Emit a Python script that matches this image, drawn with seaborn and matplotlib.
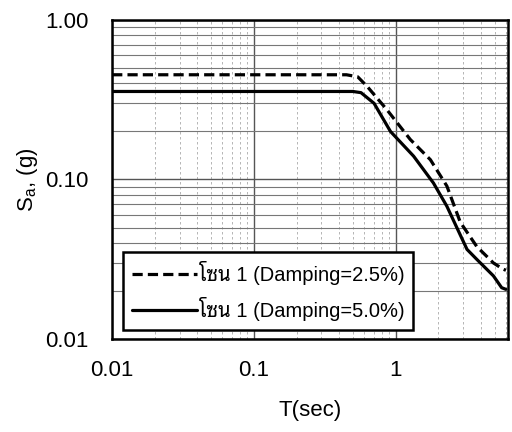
import matplotlib
matplotlib.use('Agg')
import numpy as np
import pandas as pd
import matplotlib.pyplot as plt
import seaborn as sns
from matplotlib.ticker import FixedLocator, FixedFormatter, LogLocator, NullFormatter

# response spectrum, damping 2.5 %
period_25 = [0.01, 0.45, 0.54, 0.63, 0.87, 1.27, 1.76, 2.3, 2.86, 3.74, 4.9, 5.7, 6.0]
sa_25 = [0.453, 0.453, 0.44, 0.383, 0.273, 0.178, 0.133, 0.091, 0.054, 0.038, 0.030, 0.0275, 0.027]

# response spectrum, damping 5.0 %
period_50 = [0.01, 0.50, 0.57, 0.705, 0.92, 1.34, 1.85, 2.3, 3.19, 3.74, 4.9, 5.6, 6.0]
sa_50 = [0.356, 0.356, 0.35, 0.30, 0.20, 0.14, 0.095, 0.068, 0.0365, 0.0316, 0.0249, 0.021, 0.0205]

labels = ['โซน 1 (Damping=2.5%)', 'โซน 1 (Damping=5.0%)']
x_ticks = [0.01, 0.1, 1]
x_ticklabels = ['0.01', '0.1', '1']
y_ticks = [0.01, 0.1, 1]
y_ticklabels = ['0.01', '0.10', '1.00']

df = pd.concat([
    pd.DataFrame({'T': period_25, 'Sa': sa_25, 'series': labels[0]}),
    pd.DataFrame({'T': period_50, 'Sa': sa_50, 'series': labels[1]}),
])

sns.set_style('white')
plt.rcParams['font.family'] = ['Liberation Sans', 'Noto Sans Thai Looped', 'DejaVu Sans']
plt.rcParams['mathtext.fontset'] = 'custom'
plt.rcParams['mathtext.rm'] = 'Liberation Sans'
plt.rcParams['text.color'] = 'black'
plt.rcParams['axes.labelcolor'] = 'black'

fig = plt.figure(figsize=(5.12, 4.32), dpi=100)
ax = fig.add_axes([0.219, 0.215, 0.773, 0.739])

sns.lineplot(data=df, x='T', y='Sa', style='series', color='black', linewidth=2.3,
             dashes={labels[0]: (3.2, 1.6), labels[1]: ''}, sort=False, estimator=None, ax=ax)

ax.set_xscale('log')
ax.set_yscale('log')
ax.set_xlim(0.01, 6.2)
ax.set_ylim(0.01, 1.0)

ax.xaxis.set_major_locator(FixedLocator(x_ticks))
ax.xaxis.set_major_formatter(FixedFormatter(x_ticklabels))
ax.yaxis.set_major_locator(FixedLocator(y_ticks))
ax.yaxis.set_major_formatter(FixedFormatter(y_ticklabels))
ax.xaxis.set_minor_locator(LogLocator(base=10, subs=np.arange(2, 10)))
ax.yaxis.set_minor_locator(LogLocator(base=10, subs=np.arange(2, 10)))
ax.xaxis.set_minor_formatter(NullFormatter())
ax.yaxis.set_minor_formatter(NullFormatter())

ax.grid(which='major', color='#555555', linewidth=1.0)
ax.grid(which='minor', axis='y', color='#777777', linewidth=0.8)
ax.grid(which='minor', axis='x', color='#aaaaaa', linewidth=0.6, linestyle=(0, (3, 3)))

ax.tick_params(which='major', direction='out', length=5, width=1, labelsize=16, colors='black')
ax.tick_params(axis='y', which='major', pad=12)
ax.tick_params(axis='x', which='major', pad=10)
ax.tick_params(which='minor', direction='in', length=4, width=0.8)
for s in ax.spines.values():
    s.set_color('black')
    s.set_linewidth(1.8)

ax.set_xlabel('T(sec)', fontsize=16, labelpad=14, color='black')
ax.set_ylabel('S$_\\mathrm{a}$, (g)', fontsize=16, labelpad=4, color='black')

leg = ax.legend(loc='lower left', bbox_to_anchor=(0.028, 0.028), frameon=True, fancybox=False,
                edgecolor='black', fontsize=14.5, handlelength=3.2, handletextpad=0.1,
                borderpad=0.45, labelspacing=0.6, framealpha=1, borderaxespad=0)
leg.get_frame().set_linewidth(1.8)
for t in leg.get_texts():
    t.set_color('black')

fig.savefig('out.png', dpi=100)
